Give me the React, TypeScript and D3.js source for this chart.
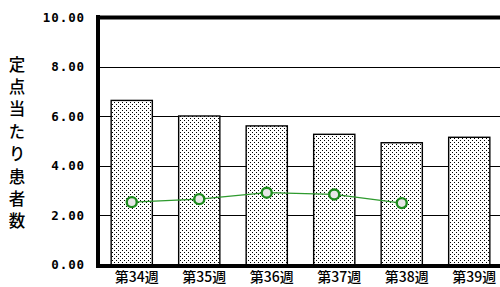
import React from "react";
import * as d3 from "d3";

const categories = ["第34週", "第35週", "第36週", "第37週", "第38週", "第39週"];
const barValues = [6.63, 6.0, 5.6, 5.26, 4.92, 5.14];
const lineValues = [2.52, 2.64, 2.9, 2.83, 2.48];
const yTicks = [0, 2, 4, 6, 8, 10];
const yTitle = "定点当たり患者数";

export default function App() {
  const W = 500, H = 287;
  const left = 98, right = 503, top = 17, bottom = 266;
  const x = d3.scaleBand<string>().domain(categories).range([left, right]).paddingInner(0.39).paddingOuter(0.195);
  const y = d3.scaleLinear().domain([0, 10]).range([bottom - 1.5, top]);
  const line = d3.line<number>()
    .x((_, i) => (x(categories[i]) as number) + x.bandwidth() / 2)
    .y((d) => y(d));
  const mono = "'DejaVu Sans Mono', 'Liberation Mono', monospace";
  const cjk = "'Noto Sans CJK JP', sans-serif";
  return (
    <svg width={W} height={H} style={{ position: "absolute", left: 0, top: 0, background: "#fff" }}>
      <defs>
        <pattern id="dots" width={4} height={4} patternUnits="userSpaceOnUse">
          <rect width={4} height={4} fill="#fff" />
          <rect x={0} y={0} width={1} height={1} fill="#000" />
          <rect x={2} y={2} width={1} height={1} fill="#000" />
        </pattern>
      </defs>
      {yTicks.filter((t) => t > 0 && t < 10).map((t) => (
        <line key={t} x1={left} x2={W} y1={Math.round(y(t)) + 0.5} y2={Math.round(y(t)) + 0.5} stroke="#000" strokeWidth={1} />
      ))}
      {barValues.map((v, i) => (
        <rect key={i} x={(x(categories[i]) as number)} y={y(v)} width={x.bandwidth()} height={bottom - y(v)}
          fill="url(#dots)" stroke="#000" strokeWidth={1.4} />
      ))}
      <path d={line(lineValues) || ""} fill="none" stroke="#2e9a2e" strokeWidth={1.3} />
      {lineValues.map((v, i) => (
        <circle key={i} cx={(x(categories[i]) as number) + x.bandwidth() / 2} cy={y(v)} r={5}
          fill="#e6e6e6" stroke="#1c8c1c" strokeWidth={2.4} />
      ))}
      {/* frame */}
      <line x1={98} x2={98} y1={15} y2={268} stroke="#000" strokeWidth={4} />
      <line x1={96} x2={W} y1={17.5} y2={17.5} stroke="#000" strokeWidth={4} />
      <line x1={96} x2={W} y1={266} y2={266} stroke="#000" strokeWidth={4} />
      {yTicks.map((t) => (
        <text key={t} x={85} y={y(t)} dy="0.36em" textAnchor="end" fontFamily={mono} fontSize={12.5}
          fontWeight={600} letterSpacing={0.9} fill="#000">{t.toFixed(2)}</text>
      ))}
      {categories.map((c) => (
        <text key={c} x={(x(c) as number) + x.bandwidth() / 2 + 5} y={282} textAnchor="middle"
          fontFamily={cjk} fontSize={14} fontWeight={500} fill="#000">{c}</text>
      ))}
      <text x={17} y={56} fontFamily={cjk} fontSize={16.5} fontWeight={500} fill="#000"
        style={{ writingMode: "vertical-rl", letterSpacing: "5.9px" }} textAnchor="start">{yTitle}</text>
    </svg>
  );
}
